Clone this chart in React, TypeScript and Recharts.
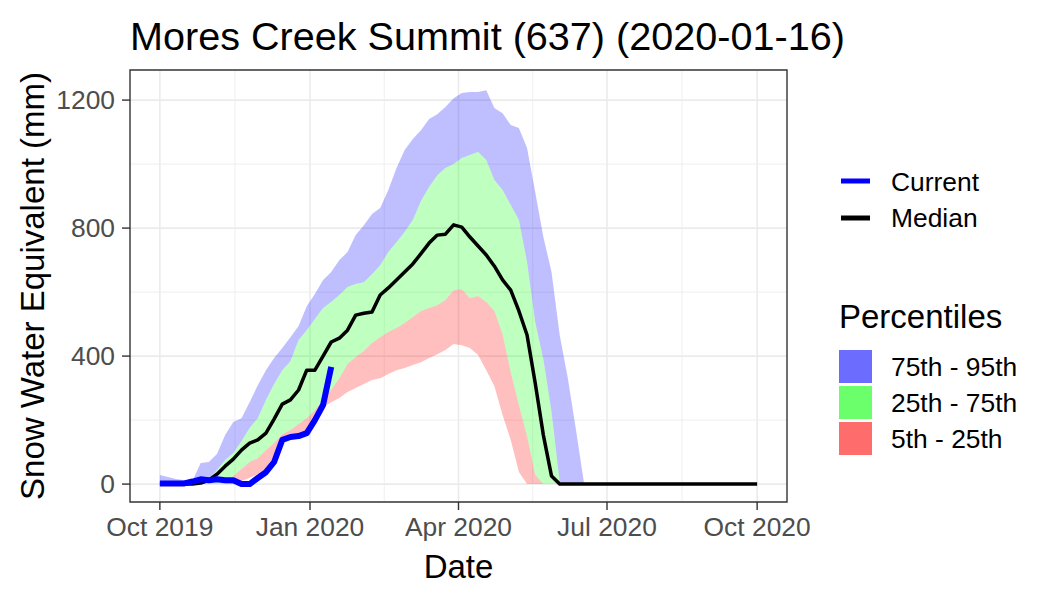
import React from "react"
import { ComposedChart, Area, Line, XAxis, YAxis, CartesianGrid, ReferenceArea, Label } from "recharts"

// day 0 = 2019-10-01, one row every 5 days
const days = [
  0, 5, 10, 15, 20, 25, 30, 35, 40, 45, 50, 55, 60, 65, 70, 75, 80, 85, 90, 95,
  100, 105, 110, 115, 120, 125, 130, 135, 140, 145, 150, 155, 160, 165, 170, 175, 180, 185, 190, 195,
  200, 205, 210, 215, 220, 225, 230, 235, 240, 245, 250, 255, 260, 265, 270, 275, 280, 285, 290, 295,
  300, 305, 310, 315, 320, 325, 330, 335, 340, 345, 350, 355, 360, 365, 366,
]

const p95 = [
  28, 22, 16, 12, 10, 66, 69, 94, 153, 194, 206, 256, 309, 356, 394, 425, 459, 494, 556, 594,
  638, 663, 700, 725, 778, 809, 844, 863, 919, 988, 1044, 1078, 1106, 1141, 1156, 1178, 1206, 1222, 1225, 1225,
  1231, 1175, 1159, 1122, 1113, 1050, 913, 772, 663, 466, 331, 169, 0, 0, 0, 0, 0, 0, 0, 0,
  0, 0, 0, 0, 0, 0, 0, 0, 0, 0, 0, 0, 0, 0, 0,
]

const p75 = [
  0, 0, 0, 0, 0, 5, 16, 44, 75, 97, 134, 175, 206, 263, 313, 356, 384, 450, 481, 516,
  550, 569, 591, 616, 625, 631, 656, 684, 725, 756, 788, 825, 885, 928, 965, 988, 1000, 1019, 1028, 1038,
  1013, 950, 919, 872, 825, 694, 506, 390, 225, 6, 0, 0, 0, 0, 0, 0, 0, 0, 0, 0,
  0, 0, 0, 0, 0, 0, 0, 0, 0, 0, 0, 0, 0, 0, 0,
]

const p25 = [
  0, 0, 0, 0, 0, 0, 0, 0, 0, 25, 47, 69, 81, 106, 128, 156, 169, 188, 206, 231,
  263, 294, 331, 375, 397, 416, 441, 459, 475, 488, 503, 522, 541, 550, 559, 575, 606, 609, 581, 588,
  569, 541, 468, 350, 247, 150, 28, 0, 0, 0, 0, 0, 0, 0, 0, 0, 0, 0, 0, 0,
  0, 0, 0, 0, 0, 0, 0, 0, 0, 0, 0, 0, 0, 0, 0,
]

const p5 = [
  0, 0, 0, 0, 0, 0, 0, 0, 0, 0, 10, 20, 31, 44, 90, 131, 144, 156, 169, 200,
  240, 256, 269, 288, 300, 313, 325, 331, 344, 356, 363, 372, 381, 394, 406, 419, 438, 434, 425, 403,
  356, 306, 216, 138, 38, 0, 0, 0, 0, 0, 0, 0, 0, 0, 0, 0, 0, 0, 0, 0,
  0, 0, 0, 0, 0, 0, 0, 0, 0, 0, 0, 0, 0, 0, 0,
]

const median = [
  0, 0, 0, 0, 0, 3, 12, 31, 56, 78, 106, 128, 138, 159, 203, 250, 263, 294, 356, 356,
  400, 444, 456, 481, 528, 534, 538, 591, 613, 638, 663, 688, 720, 753, 778, 781, 810, 803, 772, 744,
  716, 681, 638, 606, 541, 466, 316, 153, 25, 0, 0, 0, 0, 0, 0, 0, 0, 0, 0, 0,
  0, 0, 0, 0, 0, 0, 0, 0, 0, 0, 0, 0, 0, 0, 0,
]

// water year so far (to mid January)
const current = [2, 2, 2, 2, 8, 15, 12, 15, 12, 12, 0, 0, 19, 37, 69, 138, 147, 150, 159, 200, 247, 366]

const tickDays = [0, 92, 183, 274, 366]
const tickLabels = ["Oct 2019", "Jan 2020", "Apr 2020", "Jul 2020", "Oct 2020"]
const minorDays = [46, 137.5, 228.5, 320]
const yTicks = [0, 400, 800, 1200]
const yMinor = [200, 600, 1000]
const xDomain = [-18.3, 384.3]
const yDomain = [-56, 1294]

const data = days.map((day, i) => ({
  day,
  band5: [p5[i], p25[i]],
  band25: [p25[i], p75[i]],
  band75: [p75[i], p95[i]],
  median: median[i],
  current: i < current.length ? current[i] : null,
}))

const font = "'Liberation Sans', Arial, Helvetica, sans-serif"

export default function App() {
  return (
    <div style={{ position: "absolute", left: 0, top: 0, width: 1050, height: 600, background: "#fff", fontFamily: font }}>
      <ComposedChart width={1050} height={600} data={data} margin={{ top: 70, right: 263, bottom: 0, left: 0 }}>
        <CartesianGrid verticalValues={minorDays} horizontalValues={yMinor} stroke="#EBEBEB" strokeWidth={0.8} />
        <CartesianGrid verticalValues={tickDays} horizontalValues={yTicks} stroke="#EBEBEB" strokeWidth={1.6} />
        <XAxis
          dataKey="day"
          type="number"
          domain={xDomain}
          ticks={tickDays}
          interval={0}
          allowDataOverflow
          height={98}
          tickSize={8}
          tickMargin={7}
          axisLine={false}
          tickLine={{ stroke: "#333333", strokeWidth: 1.4 }}
          tick={{ fill: "#4D4D4D", fontSize: 26.4, fontFamily: font }}
          tickFormatter={(v) => tickLabels[tickDays.indexOf(v)]}
        >
          <Label value="Date" position="insideBottom" offset={22} style={{ fontSize: 33, fill: "#000", fontFamily: font }} />
        </XAxis>
        <YAxis
          type="number"
          domain={yDomain}
          ticks={yTicks}
          interval={0}
          allowDataOverflow
          width={130}
          tickSize={8}
          tickMargin={7}
          axisLine={false}
          tickLine={{ stroke: "#333333", strokeWidth: 1.4 }}
          tick={{ fill: "#4D4D4D", fontSize: 26.4, fontFamily: font }}
        >
          <Label
            value="Snow Water Equivalent (mm)"
            angle={-90}
            position="insideLeft"
            offset={32}
            style={{ fontSize: 33, fill: "#000", fontFamily: font, textAnchor: "middle" }}
          />
        </YAxis>
        <Area dataKey="band75" type="linear" stroke="none" fill="#0000FF" fillOpacity={0.25} dot={false} activeDot={false} isAnimationActive={false} />
        <Area dataKey="band25" type="linear" stroke="none" fill="#00FF00" fillOpacity={0.25} dot={false} activeDot={false} isAnimationActive={false} />
        <Area dataKey="band5" type="linear" stroke="none" fill="#FF0000" fillOpacity={0.25} dot={false} activeDot={false} isAnimationActive={false} />
        <Line dataKey="median" type="linear" stroke="#000" strokeWidth={3.5} strokeLinejoin="round" dot={false} activeDot={false} isAnimationActive={false} />
        <Line dataKey="current" type="linear" stroke="#0000FF" strokeWidth={6} strokeLinejoin="round" dot={false} activeDot={false} isAnimationActive={false} />
        <ReferenceArea x1={xDomain[0]} x2={xDomain[1]} y1={yDomain[0]} y2={yDomain[1]} fill="none" fillOpacity={0} stroke="#333333" strokeWidth={1.4} />
      </ComposedChart>

      <svg width={1050} height={600} style={{ position: "absolute", left: 0, top: 0, pointerEvents: "none" }} fontFamily={font}>
        <text x={130} y={50} fontSize={39.6} fill="#000">Mores Creek Summit (637) (2020-01-16)</text>
        <line x1={841} x2={870} y1={181} y2={181} stroke="#0000FF" strokeWidth={5} />
        <text x={891} y={191} fontSize={26.4} fill="#000">Current</text>
        <line x1={841} x2={870} y1={218} y2={218} stroke="#000" strokeWidth={5} />
        <text x={891} y={227} fontSize={26.4} fill="#000">Median</text>
        <text x={839} y={328} fontSize={33} fill="#000">Percentiles</text>
        <rect x={839} y={350} width={33} height={33} fill="#6C6CFF" />
        <text x={891} y={376} fontSize={26.4} fill="#000">75th - 95th</text>
        <rect x={839} y={386} width={33} height={33} fill="#6CFF6C" />
        <text x={891} y={412} fontSize={26.4} fill="#000">25th - 75th</text>
        <rect x={839} y={422} width={33} height={33} fill="#FF6C6C" />
        <text x={891} y={448} fontSize={26.4} fill="#000">5th - 25th</text>
      </svg>
    </div>
  )
}
